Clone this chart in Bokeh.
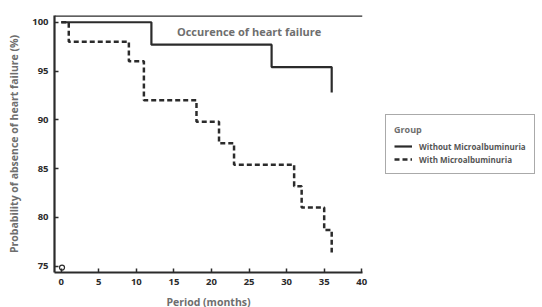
from bokeh.plotting import figure
from bokeh.models import Range1d, Legend, LegendItem, Label, FixedTicker
from bokeh.embed import file_html
from bokeh.resources import INLINE

# Data
without_t = [0, 12, 28, 36]
without_s = [100, 97.7, 95.4, 92.8]
with_t = [0, 1, 9, 11, 18, 21, 23, 31, 32, 35, 36]
with_s = [100, 98.0, 96.0, 92.0, 89.8, 87.6, 85.4, 83.2, 81.0, 78.7, 76.4]
origin_mark_t = [0.1]
origin_mark_s = [74.85]
x_ticks = [0, 5, 10, 15, 20, 25, 30, 35, 40]
y_ticks = [75, 80, 85, 90, 95, 100]
series_names = ["Without Microalbuminuria", "With Microalbuminuria"]
title_text = "Occurence of heart failure"

FONT = "Open Sans"
DARK = "#2b2b2b"
GRAY = "#6e6e6e"

p = figure(frame_width=308, frame_height=257, output_backend="svg", toolbar_location=None,
           x_range=Range1d(-0.9, 40.1), y_range=Range1d(74.35, 100.69),
           min_border_left=54, min_border_right=0, min_border_top=15, min_border_bottom=34)
p.outline_line_color = None
p.grid.visible = False
p.background_fill_color = "white"

r1 = p.step(without_t, without_s, mode="after", line_color=DARK, line_width=2.2)
r2 = p.step(with_t, with_s, mode="after", line_color=DARK, line_width=2.5, line_dash="5 3")
p.scatter(origin_mark_t, origin_mark_s, marker="circle", size=5, fill_color=None,
          line_color=DARK, line_width=1.2)

for ax in (p.xaxis[0], p.yaxis[0]):
    ax.axis_line_width = 2.2
    ax.axis_line_color = DARK
    ax.major_tick_in = 4
    ax.major_tick_out = 0
    ax.major_tick_line_color = DARK
    ax.major_tick_line_width = 1.5
    ax.minor_tick_line_color = None
    ax.major_label_text_font = FONT
    ax.major_label_text_font_style = "bold"
    ax.major_label_text_font_size = "9.5px"
    ax.major_label_text_color = DARK
    ax.axis_label_text_font = FONT
    ax.axis_label_text_font_style = "bold"
    ax.axis_label_text_font_size = "10.5px"
    ax.axis_label_text_color = GRAY

p.xaxis[0].ticker = FixedTicker(ticks=x_ticks)
p.yaxis[0].ticker = FixedTicker(ticks=y_ticks)
p.xaxis[0].axis_label = "Period (months)"
p.yaxis[0].axis_label = "Probability of absence of heart failure (%)"
p.xaxis[0].axis_label_standoff = 7
p.yaxis[0].axis_label_standoff = 8
p.xaxis[0].major_label_standoff = 6
p.yaxis[0].major_label_standoff = 6

# top border line
p.line([-0.9, 40.1], [100.69, 100.69], line_color=DARK, line_width=2.5)

p.add_layout(Label(x=15.4, y=99.05, text=title_text, text_font=FONT, text_font_size="11px",
                   text_font_style="bold", text_color=GRAY, text_baseline="middle"))

legend = Legend(items=[LegendItem(label=series_names[0], renderers=[r1]),
                       LegendItem(label=series_names[1], renderers=[r2])],
                location="center_left", title="Group")
legend.title_text_font = FONT
legend.title_text_font_style = "bold"
legend.title_text_font_size = "9px"
legend.title_text_color = GRAY
legend.label_text_font = FONT
legend.label_text_font_style = "bold"
legend.label_text_font_size = "8px"
legend.label_text_color = "#555555"
legend.border_line_color = "#555555"
legend.border_line_width = 1.5
legend.glyph_width = 18
legend.glyph_height = 10
legend.label_height = 10
legend.spacing = 2
legend.padding = 8
legend.margin = 23
legend.label_standoff = 7
p.add_layout(legend, "right")

open("out.html", "w").write(file_html(p, INLINE))
